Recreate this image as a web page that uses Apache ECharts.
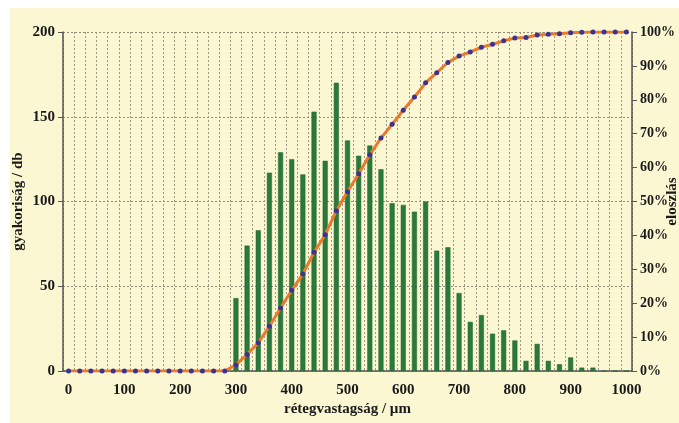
<!DOCTYPE html>
<html>
<head>
<meta charset="utf-8">
<script src="https://cdn.jsdelivr.net/npm/echarts@6/dist/echarts.min.js"></script>
<style>
html,body{margin:0;padding:0;background:#ffffff;}
#c{position:absolute;left:10px;top:8px;width:669px;height:415px;}
</style>
</head>
<body>
<div id="c"></div>
<script>
var categories = ['0','20','40','60','80','100','120','140','160','180','200','220','240','260','280','300','320','340','360','380','400','420','440','460','480','500','520','540','560','580','600','620','640','660','680','700','720','740','760','780','800','820','840','860','880','900','920','940','960','980','1000'];
var frequency = [0,0,0,0,0,0,0,0,0,0,0,0,0,0,0,43,74,83,117,129,125,116,153,124,170,136,127,133,119,99,98,94,100,71,73,46,29,33,22,24,18,6,16,6,4,8,2,2,0,0,0];
var distribution = [0,0,0,0,0,0,0,0,0,0,0,0,0,0,0,1.8,4.9,8.3,13.2,18.6,23.8,28.6,35.0,40.2,47.3,52.9,58.2,63.8,68.7,72.8,76.9,80.8,85.0,88.0,91.0,92.9,94.1,95.5,96.4,97.4,98.2,98.4,99.1,99.3,99.5,99.8,99.9,100,100,100,100];
var leftTicks = [0,50,100,150,200];
var rightTicks = [0,10,20,30,40,50,60,70,80,90,100];

var font = 'Liberation Serif';
var txt = '#1a1a1a';
var chart = echarts.init(document.getElementById('c'));
chart.setOption({
  backgroundColor: '#fbf7d2',
  animation: false,
  grid: {left: 53, right: 47, top: 24, bottom: 52, containLabel: false, outerBoundsMode: 'none'},
  xAxis: {
    type: 'category',
    data: categories,
    boundaryGap: true,
    name: 'rétegvastagság / µm',
    nameLocation: 'middle',
    nameGap: 31,
    nameMoveOverlap: false,
    nameTextStyle: {fontFamily: font, fontWeight: 'bold', fontSize: 15, color: txt},
    axisLine: {lineStyle: {color: '#555', width: 1.5}},
    axisTick: {interval: 0, length: 4, lineStyle: {color: '#555'}},
    axisLabel: {interval: 4, fontFamily: font, fontWeight: 'bold', fontSize: 15, color: txt, margin: 12},
    splitLine: {show: true, interval: 0, lineStyle: {color: '#9c9a84', type: [2, 2], width: 1}}
  },
  yAxis: [
    {
      type: 'value', min: leftTicks[0], max: leftTicks[leftTicks.length-1], interval: 50,
      name: 'gyakoriság / db',
      nameLocation: 'middle', nameRotate: 90, nameGap: 37,
      nameMoveOverlap: false,
      nameTextStyle: {fontFamily: font, fontWeight: 'bold', fontSize: 15, color: txt},
      axisLine: {show: true, lineStyle: {color: '#555', width: 1.5}},
      axisTick: {show: true, length: 5, lineStyle: {color: '#555'}},
      axisLabel: {fontFamily: font, fontWeight: 'bold', fontSize: 15, color: txt, margin: 8},
      splitLine: {show: true, lineStyle: {color: '#8f8d78', type: [2, 2], width: 1}}
    },
    {
      type: 'value', min: rightTicks[0], max: rightTicks[rightTicks.length-1], interval: 10,
      name: 'eloszlás',
      nameLocation: 'middle', nameRotate: 90, nameGap: 33,
      nameMoveOverlap: false,
      nameTextStyle: {fontFamily: font, fontWeight: 'bold', fontSize: 15, color: txt},
      axisLine: {show: true, lineStyle: {color: '#555', width: 1.5}},
      axisTick: {show: true, length: 5, lineStyle: {color: '#555'}},
      axisLabel: {fontFamily: font, fontWeight: 'bold', fontSize: 14, color: txt, margin: 8, formatter: '{value}%'},
      splitLine: {show: false}
    }
  ],
  series: [
    {
      type: 'bar',
      data: frequency,
      yAxisIndex: 0,
      barWidth: 5,
      itemStyle: {color: '#2a7a3c', borderColor: '#1f5e2d', borderWidth: 0.5}
    },
    {
      type: 'line',
      data: distribution,
      yAxisIndex: 1,
      symbol: 'circle',
      symbolSize: 5,
      lineStyle: {color: '#ec7a2c', width: 3},
      itemStyle: {color: '#3a3390'},
      z: 5
    }
  ]
});
</script>
</body>
</html>
